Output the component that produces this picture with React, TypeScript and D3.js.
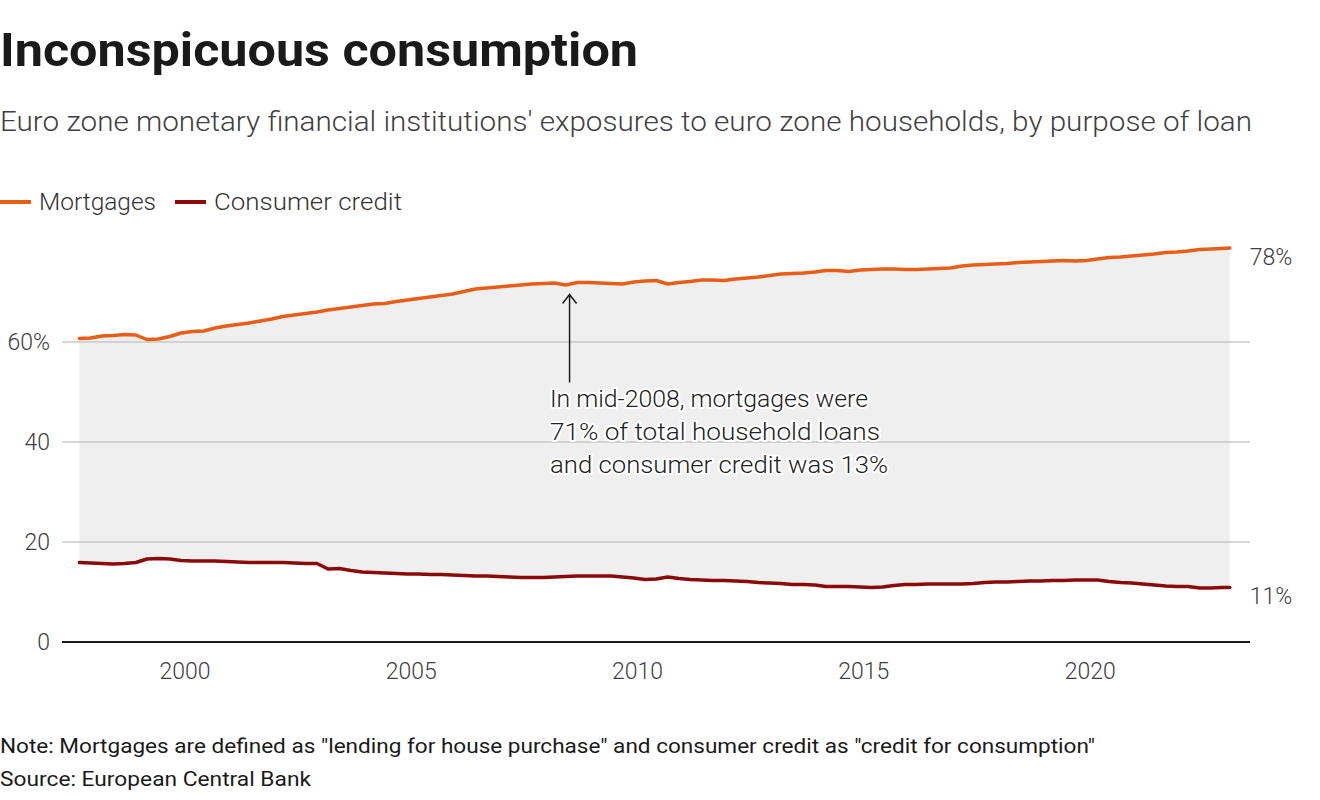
import React from "react";
import * as d3 from "d3";

const TITLE = "Inconspicuous consumption";
const SUBTITLE = "Euro zone monetary financial institutions' exposures to euro zone households, by purpose of loan";
const NOTE = 'Note: Mortgages are defined as "lending for house purchase" and consumer credit as "credit for consumption"';
const SOURCE = "Source: European Central Bank";
const ANNOTATION = ["In mid-2008, mortgages were", "71% of total household loans", "and consumer credit was 13%"];

const seriesNames = ["Mortgages", "Consumer credit"];
const seriesColors = ["#e95e16", "#8a0a0a"];

// quarterly observations from Sep 1997, plus final Feb 2023
const mortgages = [
  60.7, 60.8,
  61.2, 61.3, 61.5, 61.4,
  60.5, 60.6, 61.1, 61.8,
  62.1, 62.2, 62.8, 63.2,
  63.5, 63.8, 64.2, 64.6,
  65.1, 65.4, 65.7, 66.0,
  66.4, 66.7, 67.0, 67.3,
  67.6, 67.7, 68.1, 68.4,
  68.7, 69.0, 69.3, 69.6,
  70.1, 70.6, 70.8, 71.0,
  71.2, 71.4, 71.6, 71.7,
  71.8, 71.4, 71.9, 71.9,
  71.8, 71.7, 71.6, 72.0,
  72.2, 72.3, 71.6, 71.9,
  72.1, 72.4, 72.4, 72.3,
  72.6, 72.8, 73.0, 73.3,
  73.6, 73.7, 73.8, 74.0,
  74.3, 74.3, 74.1, 74.4,
  74.5, 74.6, 74.6, 74.5,
  74.5, 74.6, 74.7, 74.8,
  75.2, 75.4, 75.5, 75.6,
  75.7, 75.9, 76.0, 76.1,
  76.2, 76.3, 76.2, 76.3,
  76.6, 76.9, 77.0, 77.2,
  77.4, 77.6, 77.9, 78.0,
  78.2, 78.5, 78.6, 78.7,
  78.8,
];

const consumerCredit = [
  15.9, 15.8,
  15.7, 15.6, 15.7, 15.9,
  16.6, 16.7, 16.6, 16.3,
  16.2, 16.2, 16.2, 16.1,
  16.0, 15.9, 15.9, 15.9,
  15.9, 15.8, 15.7, 15.7,
  14.6, 14.7, 14.3, 14.0,
  13.9, 13.8, 13.7, 13.6,
  13.6, 13.5, 13.5, 13.4,
  13.3, 13.2, 13.2, 13.1,
  13.0, 12.9, 12.9, 12.9,
  13.0, 13.1, 13.2, 13.2,
  13.2, 13.2, 13.0, 12.8,
  12.5, 12.6, 13.0, 12.7,
  12.5, 12.4, 12.3, 12.3,
  12.2, 12.1, 11.9, 11.8,
  11.7, 11.5, 11.5, 11.4,
  11.1, 11.1, 11.1, 11.0,
  10.9, 11.0, 11.3, 11.5,
  11.5, 11.6, 11.6, 11.6,
  11.6, 11.7, 11.9, 12.0,
  12.0, 12.1, 12.2, 12.2,
  12.3, 12.3, 12.4, 12.4,
  12.4, 12.1, 11.9, 11.8,
  11.6, 11.4, 11.2, 11.1,
  11.1, 10.8, 10.8, 10.9,
  10.9,
];

const dates: Date[] = [
  ...d3.timeMonth.range(new Date(1997, 8, 1), new Date(2023, 0, 1), 3),
  new Date(2023, 1, 1),
];

const yTicks = [0, 20, 40, 60];
const xTickYears = [2000, 2005, 2010, 2015, 2020];
const endLabels = ["78%", "11%"];
const annotationDate = new Date(2008, 6, 1);

const FONT = "Roboto, 'Noto Sans', sans-serif";

export default function App() {
  const W = 1320, H = 800;
  const x = d3.scaleTime()
    .domain([new Date(1997, 3, 14), new Date(2023, 6, 14)])
    .range([62, 1250]);
  const y = d3.scaleLinear().domain([0, 100]).range([642, 142]);

  const data = dates.map((d, i) => ({ d, m: mortgages[i], c: consumerCredit[i] }));
  const lineM = d3.line<any>().x(p => x(p.d)).y(p => y(p.m))(data) as string;
  const lineC = d3.line<any>().x(p => x(p.d)).y(p => y(p.c))(data) as string;
  const area = d3.area<any>().x(p => x(p.d)).y0(p => y(p.c)).y1(p => y(p.m))(data) as string;

  const last = data[data.length - 1];
  const ax = x(annotationDate);
  const annIdx = d3.bisector((p: any) => p.d).left(data, annotationDate);
  const ay = y(Math.max(data[annIdx - 1].m, data[annIdx].m)) + 12;

  const legendX = [0, 175];
  const legendW = [117, 188];
  const annW = [318, 330, 338];

  return (
    <svg width={W} height={H} style={{ position: "absolute", left: 0, top: 0, background: "#fff" }} fontFamily={FONT}>
      <text x={0} y={66} fontSize={46} fontWeight={700} fill="#1a1a1a" textLength={638} lengthAdjust="spacingAndGlyphs">{TITLE}</text>
      <text x={0} y={131} fontSize={28} fontWeight={300} fill="#404040" textLength={1252} lengthAdjust="spacingAndGlyphs">{SUBTITLE}</text>

      {seriesNames.map((n, i) => {
        const lx = legendX[i];
        return (
          <g key={n}>
            <line x1={lx} x2={lx + 31} y1={202} y2={202} stroke={seriesColors[i]} strokeWidth={4} />
            <text x={lx + 39} y={210} fontSize={24} fontWeight={300} fill="#333" textLength={legendW[i]} lengthAdjust="spacingAndGlyphs">{n}</text>
          </g>
        );
      })}

      <path d={area} fill="#efefef" />

      {yTicks.filter(t => t > 0).map(t => (
        <line key={t} x1={62} x2={1250} y1={y(t)} y2={y(t)} stroke="#c8c8c8" strokeWidth={1.5} />
      ))}
      {yTicks.map(t => (
        <text key={t} x={50} y={y(t) + 8} textAnchor="end" fontSize={23} fontWeight={300} fill="#404040">
          {t === 60 ? `${t}%` : t}
        </text>
      ))}
      <line x1={62} x2={1250} y1={y(0)} y2={y(0)} stroke="#1a1a1a" strokeWidth={2} />
      {xTickYears.map(yr => (
        <text key={yr} x={x(new Date(yr, 0, 1))} y={679} textAnchor="middle" fontSize={23} fontWeight={300} fill="#404040">{yr}</text>
      ))}

      <path d={lineC} fill="none" stroke={seriesColors[1]} strokeWidth={3.5} strokeLinejoin="round" strokeLinecap="round" />
      <path d={lineM} fill="none" stroke={seriesColors[0]} strokeWidth={3.5} strokeLinejoin="round" strokeLinecap="round" />

      <text x={x(last.d) + 20} y={y(last.m) + 17} fontSize={23} fontWeight={300} fill="#404040">{endLabels[0]}</text>
      <text x={x(last.d) + 20} y={y(last.c) + 16} fontSize={23} fontWeight={300} fill="#404040">{endLabels[1]}</text>

      <line x1={ax} x2={ax} y1={ay} y2={ay + 88} stroke="#1a1a1a" strokeWidth={1.5} />
      <polyline points={`${ax - 7},${ay + 9} ${ax},${ay} ${ax + 7},${ay + 9}`} fill="none" stroke="#1a1a1a" strokeWidth={1.5} />
      {ANNOTATION.map((s, i) => (
        <text key={i} x={550} y={407 + i * 33} fontSize={23} fontWeight={300} fill="#222"
          stroke="#fff" strokeWidth={4} strokeLinejoin="round" style={{ paintOrder: "stroke" }}
          textLength={annW[i]} lengthAdjust="spacingAndGlyphs">{s}</text>
      ))}

      <text x={0} y={753} fontSize={20} fontWeight={400} fill="#1a1a1a" textLength={1095} lengthAdjust="spacingAndGlyphs">{NOTE}</text>
      <text x={0} y={786} fontSize={20} fontWeight={400} fill="#1a1a1a" textLength={311} lengthAdjust="spacingAndGlyphs">{SOURCE}</text>
    </svg>
  );
}
